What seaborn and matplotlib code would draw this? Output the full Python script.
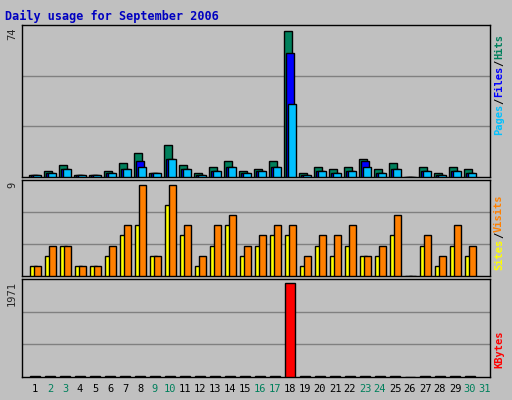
import matplotlib
matplotlib.use("Agg")
import matplotlib.pyplot as plt
import seaborn as sns
import numpy as np

sns.set_style("white")
plt.rcParams['font.family'] = ['DejaVu Sans Mono', 'DejaVu Sans']

days = list(range(1, 31))
hits  = [1,3,6,1,1,3,7,12,2,16,6,2,5,8,3,4,8,74,2,5,4,5,9,4,7,0,5,2,5,4]
files = [1,2,4,1,1,2,4,8,2,9,4,1,3,5,2,3,5,63,1,3,2,3,8,2,4,0,3,1,3,2]
pages = [1,2,4,1,1,2,4,5,2,9,4,1,3,5,2,3,5,37,1,3,2,3,5,2,4,0,3,1,3,2]
sites  = [1,2,3,1,1,2,4,5,2,7,4,1,3,5,2,3,4,4,1,3,2,3,2,2,4,0,3,1,3,2]
visits = [1,3,3,1,1,3,5,9,2,9,5,2,5,6,3,4,5,5,2,4,4,5,2,3,6,0,4,2,5,3]
kbytes = [12,12,12,12,12,12,12,12,12,12,12,12,12,12,12,12,12,1971,12,12,12,12,12,12,12,0,12,12,12,12]
weekends = [2,3,9,10,16,17,23,24,30,31]

BG = "#C0C0C0"
c_hits, c_files, c_pages = "#00805C", "#0000FF", "#00C0FF"
c_sites, c_visits, c_kb = "#FFFF00", "#FF8000", "#FF0000"

W, H = 512, 400
fig = plt.figure(figsize=(W/100, H/100), dpi=100, facecolor=BG)

def mkax(top, bottom):
    ax = fig.add_axes([22/W, 1-bottom/H, (490-22)/W, (bottom-top)/H])
    ax.set_facecolor(BG)
    ax.set_xlim(0.13, 31.33)
    ax.set_xticks([]); ax.set_yticks([])
    for s in ax.spines.values():
        s.set_color("black"); s.set_linewidth(1)
    return ax

x = np.array(days, dtype=float)
bw = 0.53
kw = dict(edgecolor="black", linewidth=1, align="edge", zorder=3)

ax1 = mkax(25, 177)
ax1.set_ylim(0, 74*1.04)
for g in (74*1.04/3, 74*1.04*2/3):
    ax1.axhline(g, color="#808080", lw=1, zorder=1)
ax1.bar(x-0.4, hits, bw, color=c_hits, **kw)
ax1.bar(x-0.27, files, bw, color=c_files, **kw)
ax1.bar(x-0.14, pages, bw, color=c_pages, **kw)

ax2 = mkax(180, 276)
ax2.set_ylim(0, 9*1.05)
for g in (9*1.05/3, 9*1.05*2/3):
    ax2.axhline(g, color="#808080", lw=1, zorder=1)
ax2.bar(x-0.33, sites, 0.47, color=c_sites, **kw)
ax2.bar(x-0.07, visits, 0.47, color=c_visits, **kw)

ax3 = mkax(279, 377)
ax3.set_ylim(0, 1971*1.04)
for g in (1971*1.04/3, 1971*1.04*2/3):
    ax3.axhline(g, color="#808080", lw=1, zorder=1)
ax3.bar(x-0.33, kbytes, 0.66, color=c_kb, **kw)

fs = 7.5
fig.text(5/W, 1-16/H, "Daily usage for September 2006", color="#0000C0",
         fontsize=8.5, fontweight="bold", va="center", ha="left")
for lab, yc in (("74", 25), ("9", 180), ("1971", 279)):
    fig.text(12/W, 1-(yc+2)/H, lab, rotation=90, fontsize=fs, va="top", ha="center")

def right_label(parts, ybottom):
    y = ybottom
    for txt, col in parts:
        t = fig.text(499/W, 1-y/H, txt, rotation=90, color=col, fontsize=fs,
                     fontweight="bold", va="bottom", ha="center")
        y -= len(txt)*6.3

right_label([("Pages", c_pages), ("/", "black"), ("Files", c_files), ("/", "black"), ("Hits", c_hits)], 135)
right_label([("Sites", c_sites), ("/", "black"), ("Visits", c_visits)], 270)
right_label([("KBytes", c_kb)], 368)

for d in range(1, 32):
    px = 35 + (d-1)*15
    fig.text(px/W, 1-389/H, str(d), fontsize=fs, ha="center", va="center",
             color=c_hits if d in weekends else "black")

fig.savefig("out.png", dpi=100, facecolor=BG)
